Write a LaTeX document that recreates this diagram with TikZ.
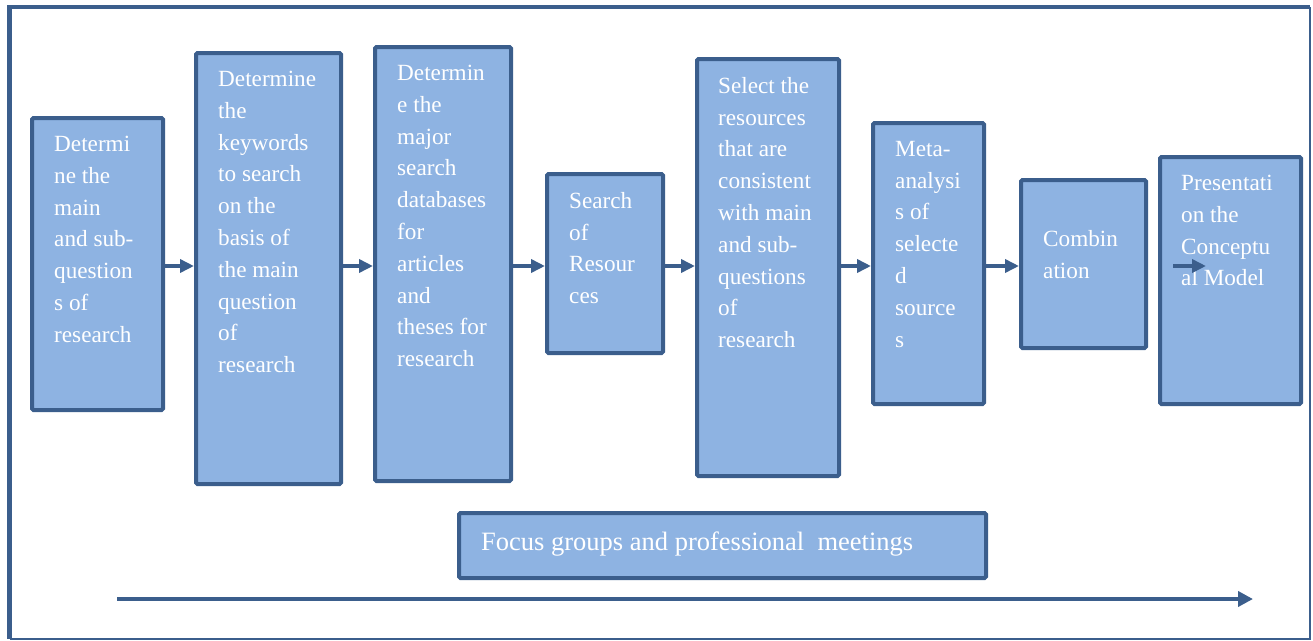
\documentclass[tikz,border=0pt]{standalone}
\usepackage{fontspec}
\setmainfont{Liberation Serif}
\usetikzlibrary{arrows.meta,calc}
\definecolor{boxfill}{RGB}{142,179,226}
\definecolor{boxline}{RGB}{59,94,140}
\tikzset{
  box/.style={draw=boxline, line width=4pt, fill=boxfill, rounded corners=1.5pt, inner sep=0pt, outer sep=2pt, anchor=north west},
  lbl/.style={text=white, inner sep=0pt, anchor=north west, align=left, font=\fontsize{23.2}{31.8}\selectfont},
  flow/.style={draw=boxline, line width=4pt, -{Triangle[length=14pt,width=13pt]}},
}
\begin{document}
\begin{tikzpicture}[x=1pt,y=1pt]
\useasboundingbox (0,0) rectangle (1313,-640);
% outer frame
\draw[boxline, line width=4.5pt] (9.5,-638.5) -- (9.5,-7) -- (1310,-7);
\draw[boxline, line width=2pt] (1310,-7) -- (1310,-638.5) -- (9.5,-638.5);
% boxes
\node[box, minimum width=131pt, minimum height=292pt] (b1) at (30,-116) {};
\node[box, minimum width=145pt, minimum height=431pt] (b2) at (194,-51) {};
\node[box, minimum width=136pt, minimum height=434pt] (b3) at (373,-45) {};
\node[box, minimum width=116pt, minimum height=179pt] (b4) at (545,-172) {};
\node[box, minimum width=142pt, minimum height=417pt] (b5) at (695,-57) {};
\node[box, minimum width=111pt, minimum height=281pt] (b6) at (871,-121) {};
\node[box, minimum width=125pt, minimum height=168pt] (b7) at (1019,-178) {};
\node[box, minimum width=141pt, minimum height=247pt] (b8) at (1158,-155) {};
\node[box, minimum width=527pt, minimum height=65pt] (fg) at (457,-511) {};
% labels
\node[lbl] (t1) at ($(b1.north west)+(24,-20)$) {Determi\\ne the\\main\\and sub-\\question\\s of\\research};
\node[lbl] (t2) at ($(b2.north west)+(24,-20)$) {Determine\\the\\keywords\\to search\\on the\\basis of\\the main\\question\\of\\research};
\node[lbl] (t3) at ($(b3.north west)+(24,-20)$) {Determin\\e the\\major\\search\\databases\\for\\articles\\and\\theses for\\research};
\node[lbl] (t4) at ($(b4.north west)+(24,-20)$) {Search\\of\\Resour\\ces};
\node[lbl] (t5) at ($(b5.north west)+(23,-20)$) {Select the\\resources\\that are\\consistent\\with main\\and sub-\\questions\\of\\research};
\node[lbl] (t6) at ($(b6.north west)+(24,-20)$) {Meta-\\analysi\\s of\\selecte\\d\\source\\s};
\node[lbl] (t7) at ($(b7.north west)+(24,-52)$) {Combin\\ation};
\node[lbl] (t8) at ($(b8.north west)+(23,-20)$) {Presentati\\on the\\Conceptu\\al Model};
\node[lbl, font=\fontsize{26.5}{32}\selectfont] (tf) at ($(fg.north west)+(24,-21)$) {Focus groups and professional\ \ meetings};
% connectors
\coordinate (row) at (0,-266);
\draw[flow] (b1.east |- row) -- (b2.west |- row);
\draw[flow] (b2.east |- row) -- (b3.west |- row);
\draw[flow] (b3.east |- row) -- (b4.west |- row);
\draw[flow] (b4.east |- row) -- (b5.west |- row);
\draw[flow] (b5.east |- row) -- (b6.west |- row);
\draw[flow] (b6.east |- row) -- (b7.west |- row);
\coordinate (a7s) at (1173,-266);
\coordinate (a7e) at (1206,-266);
\draw[flow] (a7s) -- (a7e);
% bottom timeline arrow
\coordinate (ls) at (117,-599);
\coordinate (le) at (1253,-599);
\draw[draw=boxline, line width=4pt, -{Triangle[length=15pt,width=15pt]}] (ls) -- (le);
\end{tikzpicture}
\end{document}
